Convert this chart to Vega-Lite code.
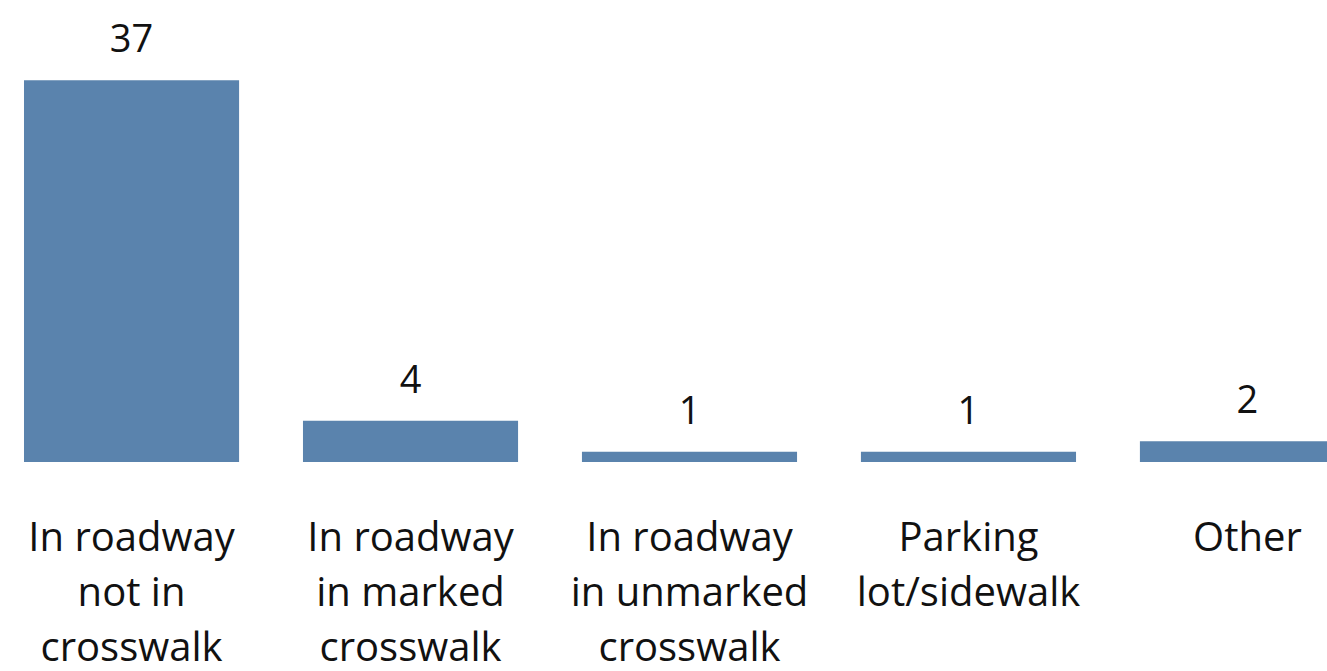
{
  "$schema": "https://vega.github.io/schema/vega-lite/v6.json",
  "autosize": {"type": "none"},
  "width": 1379,
  "height": 462,
  "padding": {"left": 0, "top": 0, "right": 0, "bottom": 209},
  "background": "white",
  "config": {"view": {"stroke": null}, "font": "Open Sans"},
  "data": {
    "values": [
      {"category": "In roadway|not in|crosswalk", "count": 37},
      {"category": "In roadway|in marked|crosswalk", "count": 4},
      {"category": "In roadway|in unmarked|crosswalk", "count": 1},
      {"category": "Parking|lot/sidewalk", "count": 1},
      {"category": "Other", "count": 2}
    ]
  },
  "encoding": {
    "x": {
      "field": "category",
      "type": "nominal",
      "sort": null,
      "scale": {"paddingInner": 0.229, "paddingOuter": 0.086},
      "axis": {
        "title": null,
        "domain": false,
        "ticks": false,
        "labelAngle": 0,
        "labelExpr": "split(datum.label, '|')",
        "labelFont": "Open Sans",
        "labelFontSize": 40,
        "labelColor": "#111111",
        "labelLineHeight": 55,
        "labelBaseline": "top",
        "labelPadding": 56,
        "labelLimit": 400
      }
    },
    "y": {
      "field": "count",
      "type": "quantitative",
      "scale": {"domain": [0, 44.77], "nice": false, "zero": true},
      "axis": null
    }
  },
  "layer": [
    {"mark": {"type": "bar", "color": "#5A83AD"}},
    {
      "mark": {"type": "text", "baseline": "alphabetic", "dy": -28, "fontSize": 38, "font": "Open Sans", "color": "#111111"},
      "encoding": {"text": {"field": "count", "type": "quantitative"}}
    }
  ]
}
